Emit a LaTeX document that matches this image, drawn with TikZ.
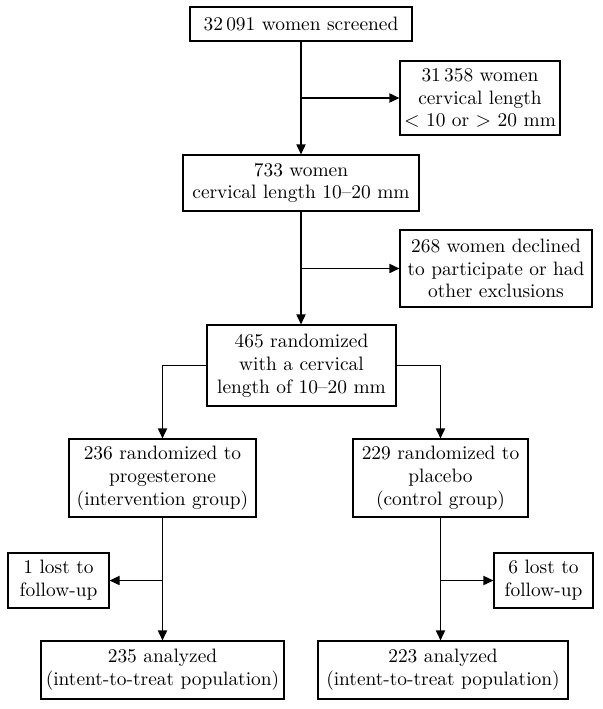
\documentclass[tikz,border=0pt]{standalone}
\usepackage{amsmath}
\usepackage{tikz}
\usetikzlibrary{arrows.meta}

\tikzset{
  box/.style={draw, line width=0.6pt, align=center, inner sep=0pt,
    font=\fontsize{9.7}{11.4}\selectfont},
  arr/.style={line width=0.6pt, -{Triangle[length=5pt,width=4.6pt]}}
}

\begin{document}
\begin{tikzpicture}[x=0.5pt,y=-0.5pt]
\useasboundingbox (0,0) rectangle (602,709);

\node[box, minimum width=111pt, minimum height=17pt] (scr) at (301,24) {32\,091 women screened};
\node[box, minimum width=80pt, minimum height=37pt] (excla) at (480,98) {31\,358 women\\cervical length\\$<$ 10 or $>$ 20 mm};
\node[box, minimum width=118pt, minimum height=28pt] (elig) at (301,183) {733 women\\cervical length 10--20 mm};
\node[box, minimum width=96pt, minimum height=38.5pt] (exclb) at (496,268.5) {268 women declined\\to participate or had\\other exclusions};
\node[box, minimum width=94.5pt, minimum height=40.5pt] (rand) at (301.5,365.5) {465 randomized\\with a cervical\\length of 10--20 mm};
\node[box, minimum width=93.5pt, minimum height=39pt] (prog) at (162.5,478) {236 randomized to\\progesterone\\(intervention group)};
\node[box, minimum width=87.5pt, minimum height=39pt] (plac) at (440.5,478) {229 randomized to\\placebo\\(control group)};
\node[box, minimum width=50.5pt, minimum height=27.5pt] (losta) at (58.5,580.5) {1 lost to\\follow-up};
\node[box, minimum width=49.5pt, minimum height=27.5pt] (lostb) at (543.5,580.5) {6 lost to\\follow-up};
\node[box, minimum width=121.5pt, minimum height=29pt] (anaa) at (162.5,670) {235 analyzed\\(intent-to-treat population)};
\node[box, minimum width=125pt, minimum height=29pt] (anab) at (443,670) {223 analyzed\\(intent-to-treat population)};

% screening and exclusions
\draw[arr] (scr.south) -- (scr.south |- elig.north);
\draw[arr] (scr.south |- excla.west) -- (excla.west);
\draw[arr] (elig.south) -- (elig.south |- rand.north);
\draw[arr] (elig.south |- exclb.west) -- (exclb.west);

% randomization
\draw[arr] (rand.west) -| (prog.north);
\draw[arr] (rand.east) -| (plac.north);

% follow-up
\draw[arr] (prog.south) -- (prog.south |- anaa.north);
\draw[arr] (prog.south |- losta.east) -- (losta.east);
\draw[arr] (plac.south) -- (plac.south |- anab.north);
\draw[arr] (plac.south |- lostb.west) -- (lostb.west);
\end{tikzpicture}
\end{document}
